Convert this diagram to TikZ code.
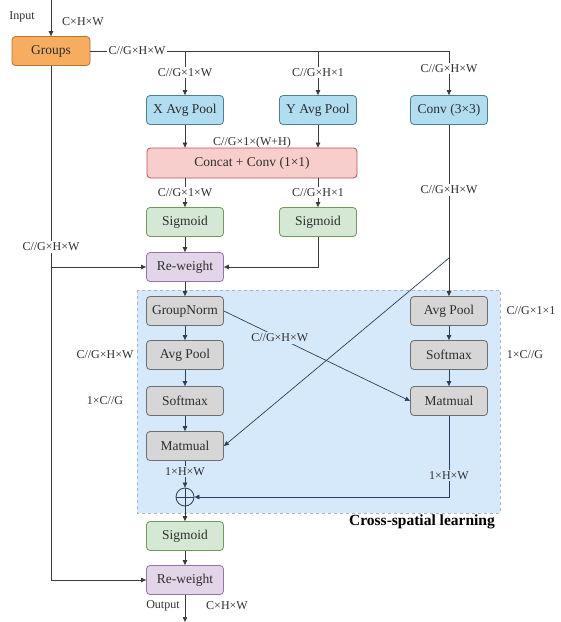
\documentclass[tikz,border=0pt]{standalone}
\usepackage{fontspec}
\setmainfont{Liberation Serif}
\usetikzlibrary{arrows.meta,calc}

\definecolor{txt}{HTML}{2E2E2E}
\definecolor{wire}{HTML}{3A3A3A}
\definecolor{navy}{HTML}{2B3F5C}
\definecolor{orangeF}{HTML}{F7AD5F}
\definecolor{orangeD}{HTML}{B8732E}
\definecolor{blueF}{HTML}{B1DDF0}
\definecolor{blueD}{HTML}{4E7F96}
\definecolor{redF}{HTML}{F8CECC}
\definecolor{redD}{HTML}{B85450}
\definecolor{greenF}{HTML}{D5E8D4}
\definecolor{greenD}{HTML}{6F9A5A}
\definecolor{purpleF}{HTML}{E1D5E7}
\definecolor{purpleD}{HTML}{9673A6}
\definecolor{greyF}{HTML}{D6D6D6}
\definecolor{greyD}{HTML}{6E6E6E}
\definecolor{regionF}{HTML}{D6E9FB}
\definecolor{regionD}{HTML}{A7B7C7}

\tikzset{
  box/.style={draw, rounded corners=3.5pt, line width=0.8pt, minimum width=77pt,
    minimum height=29pt, inner sep=0pt, text=txt, font=\fontsize{13.5}{15}\selectfont},
  orangebox/.style={box, fill=orangeF, draw=orangeD},
  bluebox/.style={box, fill=blueF, draw=blueD},
  redbox/.style={box, fill=redF, draw=redD},
  greenbox/.style={box, fill=greenF, draw=greenD},
  purplebox/.style={box, fill=purpleF, draw=purpleD},
  greybox/.style={box, fill=greyF, draw=greyD},
  wireline/.style={draw=wire, line width=0.7pt},
  arr/.style={wireline, -{Triangle[length=5pt,width=4.5pt]}},
  narr/.style={arr, draw=navy},
  dim/.style={text=txt, font=\fontsize{12}{13}\selectfont, inner sep=1.5pt},
  dimw/.style={dim, fill=white},
  dimr/.style={dim, fill=regionF},
}

\begin{document}
\begin{tikzpicture}[x=1pt, y=-1pt]
  \useasboundingbox (0,0) rectangle (561,622);

  % cross-spatial learning region
  \fill[regionF] (137,290) rectangle (500,513);
  \draw[regionD, dashed, line width=0.7pt] (137,290) rectangle (500,513);
  \node[text=black, font=\bfseries\fontsize{15.5}{17}\selectfont] (title) at (422,522) {Cross-spatial learning};

  % blocks
  \node[orangebox, minimum width=78pt] (groups) at (51,51) {Groups};
  \node[bluebox] (xap) at (185,110) {X Avg Pool};
  \node[bluebox] (yap) at (318,110) {Y Avg Pool};
  \node[bluebox] (conv) at (449,110) {Conv (3×3)};
  \node[redbox, minimum width=210pt, minimum height=30pt] (concat) at (252,163) {Concat + Conv (1×1)};
  \node[greenbox] (sig1) at (185,222) {Sigmoid};
  \node[greenbox] (sig2) at (318,222) {Sigmoid};
  \node[purplebox] (rw1) at (185,267) {Re-weight};

  \node[greybox] (gn) at (185,311) {GroupNorm};
  \node[greybox] (apL) at (185,355) {Avg Pool};
  \node[greybox] (smL) at (185,401) {Softmax};
  \node[greybox] (mmL) at (185,446) {Matmual};
  \node[greybox] (apR) at (449,311) {Avg Pool};
  \node[greybox] (smR) at (449,355) {Softmax};
  \node[greybox] (mmR) at (449,401) {Matmual};

  \node[draw=navy, line width=0.8pt, circle, minimum size=18pt, inner sep=0pt] (plus) at (185,497) {};
  \draw[navy, line width=0.8pt] (plus.north) -- (plus.south) (plus.west) -- (plus.east);

  \node[greenbox] (sig3) at (185,536) {Sigmoid};
  \node[purplebox] (rw2) at (185,580) {Re-weight};

  % free ends and branch points
  \coordinate (in) at (51,0);
  \coordinate (out) at (185,622);
  \coordinate (bX) at (185,51);
  \coordinate (bY) at (318,51);
  \coordinate (bC) at (449,51);
  \coordinate (cs) at (449,258);
  \coordinate (split) at (51,267);

  % input and grouping
  \draw[arr] (in) -- (groups.north);
  \node[dim] at (22,17) {Input};
  \node[dim] at (83,22) {C×H×W};

  \draw[wireline] (groups.east) -- (bC);
  \node[dimw] at (137,51) {C//G×H×W};
  \draw[arr] (bX) -- (xap.north) node[dimw, pos=0.48] {C//G×1×W};
  \draw[arr] (bY) -- (yap.north) node[dimw, pos=0.48] {C//G×H×1};
  \draw[arr] (bC) -- (conv.north) node[dimw, pos=0.4] {C//G×H×W};

  % coordinate attention branch
  \draw[arr] (xap.south) -- (xap.south |- concat.north);
  \draw[arr] (yap.south) -- (yap.south |- concat.north);
  \node[dim] at (252,143) {C//G×1×(W+H)};
  \draw[arr] (sig1.north |- concat.south) -- (sig1.north) node[dimw, midway] {C//G×1×W};
  \draw[arr] (sig2.north |- concat.south) -- (sig2.north) node[dimw, midway] {C//G×H×1};
  \draw[arr] (sig1) -- (rw1);
  \draw[arr] (sig2.south) |- (rw1.east);

  % residual path from groups
  \draw[wireline] (groups.south) -- (split);
  \draw[arr] (split) |- (rw2.west);
  \draw[arr] (split) -- (rw1.west);
  \node[dimw] at (51,247) {C//G×H×W};

  % cross-spatial learning
  \draw[arr] (rw1) -- (gn);
  \draw[arr] (conv.south) -- (apR.north);
  \node[dimw] at (449,190) {C//G×H×W};
  \draw[narr] (cs) -- (mmL.east);
  \draw[narr] (gn.east) -- (mmR.west) node[dimr, pos=0.3] {C//G×H×W};

  \draw[narr] (gn) -- (apL);
  \draw[narr] (apL) -- (smL);
  \draw[narr] (smL) -- (mmL);
  \draw[narr] (apR) -- (smR);
  \draw[narr] (smR) -- (mmR);
  \draw[narr] (mmL) -- (plus.north) node[dimr, pos=0.4] {1×H×W};
  \draw[narr] (mmR.south) |- (plus.east) node[dimr, pos=0.37] {1×H×W};

  \node[dim] at (105,355) {C//G×H×W};
  \node[dim] at (105,401) {1×C//G};
  \node[dim] at (531,311) {C//G×1×1};
  \node[dim] at (525,355) {1×C//G};

  % output
  \draw[arr] (plus.south) -- (sig3.north);
  \draw[arr] (sig3) -- (rw2);
  \draw[arr] (rw2.south) -- (out);
  \node[dim] at (163,606) {Output};
  \node[dim] at (227,606) {C×H×W};
\end{tikzpicture}
\end{document}
